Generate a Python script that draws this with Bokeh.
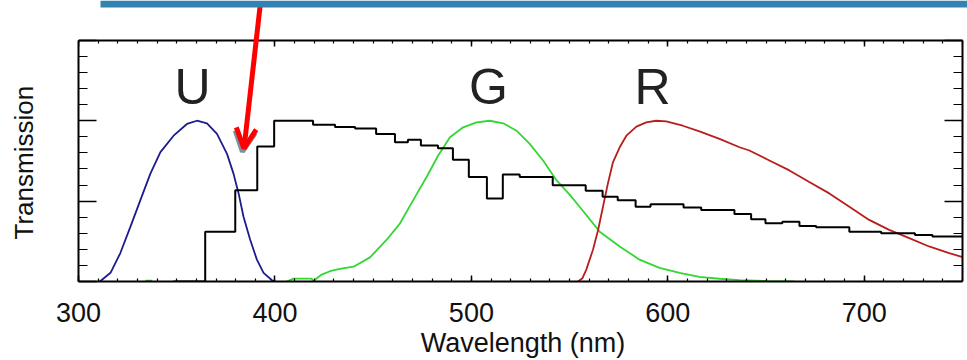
from bokeh.plotting import figure
from bokeh.models import (Range1d, LinearAxis, FixedTicker, Arrow, OpenHead, BoxAnnotation)
from bokeh.core.properties import value
from bokeh.embed import file_html
from bokeh.resources import INLINE
import numpy as np

# ---------------- data ----------------
u_nm = [310.5, 311.2, 316.3, 321.3, 326.4, 331.5, 336.6, 341.7, 348.4, 355.2, 360.3,
        365.4, 370.5, 375.6, 378.9, 381.5, 384.0, 387.4, 390.8, 394.2, 398.5, 400.1]
u_t = [0.0, 0.003, 0.054, 0.177, 0.34, 0.506, 0.671, 0.805, 0.907, 0.98, 1.0,
       0.984, 0.918, 0.794, 0.671, 0.548, 0.403, 0.26, 0.136, 0.054, 0.008, 0.0]

g_nm = [334.0, 337.5, np.nan,
        406.0, 409.4, 418.7, 419.4, 423.8, 428.0, 433.0, 440.0, 448.4, 456.9, 463.7,
        470.4, 477.2, 483.1, 489.1, 495.8, 502.6, 509.4, 516.2, 523.0, 529.7, 536.5,
        543.3, 550.0, 555.1, 565.3, 575.5, 585.6, 595.8, 606.0, 616.1, 626.3, 636.5,
        650.0, 664.4]
g_t = [0.005, 0.005, np.nan,
       0.0, 0.018, 0.018, 0.002, 0.043, 0.064, 0.078, 0.092, 0.15, 0.26, 0.362,
       0.506, 0.65, 0.784, 0.897, 0.959, 0.99, 1.0, 0.984, 0.938, 0.856, 0.753,
       0.63, 0.54, 0.465, 0.31, 0.218, 0.136, 0.085, 0.054, 0.029, 0.017, 0.008,
       0.003, 0.0]

r_nm = [554.3, 556.5, 558.5, 561.9, 564.5, 567.0, 569.5, 572.1, 575.5, 578.9, 584.0,
        589.0, 594.1, 599.2, 607.6, 616.1, 626.3, 636.5, 641.5, 651.7, 661.9, 672.0,
        682.2, 692.4, 702.5, 712.7, 722.9, 733.0, 743.2, 750.0]
r_t = [0.0, 0.02, 0.074, 0.198, 0.32, 0.465, 0.61, 0.743, 0.835, 0.907, 0.963,
       0.99, 1.0, 0.996, 0.969, 0.934, 0.887, 0.835, 0.815, 0.753, 0.691, 0.619,
       0.548, 0.465, 0.383, 0.321, 0.27, 0.218, 0.177, 0.152]

step_edges_nm = [348.3, 364.5, 379.8, 391.0, 399.6, 419.4, 430.6, 440.8, 451.5, 461.1,
                 467.7, 474.3, 483.0, 490.6, 498.7, 507.9, 516.0, 524.6, 541.4, 558.2,
                 566.8, 574.5, 583.6, 591.2, 608.0, 617.0, 633.9, 642.4, 649.7, 658.3,
                 667.0, 675.5, 692.4, 708.6, 725.8, 734.7, 750.0]
step_vals = [0.0, 0.31, 0.568, 0.84, 1.0, 0.975, 0.961, 0.952, 0.917, 0.866,
             0.881, 0.846, 0.829, 0.757, 0.65, 0.517, 0.665, 0.65, 0.599, 0.564,
             0.527, 0.506, 0.465, 0.48, 0.461, 0.444, 0.42, 0.387, 0.362, 0.372,
             0.346, 0.338, 0.31, 0.30, 0.29, 0.28]

filter_names = ["U", "G", "R"]
filter_label_nm = [358.0, 508.7, 592.2]
filter_label_t = [1.212, 1.212, 1.212]

x_major_ticks = [300, 400, 500, 600, 700]
x_minor_ticks = list(range(300, 751, 10))
y_major_ticks = [0.0, 0.5, 1.0, 1.5]
y_minor_ticks = [0.1, 0.2, 0.3, 0.4, 0.6, 0.7, 0.8, 0.9, 1.1, 1.2, 1.3, 1.4]

X_MIN, X_MAX = 300, 750
Y_MIN, Y_MAX = 0.0, 1.5

x_title = "Wavelength (nm)"
y_title = "Transmission"

# arrow annotation (data coords): start and tip
arrow_start = (392.65, 1.736)
arrow_tip = (384.25, 0.8275)

# ---------------- figure ----------------
# the frame reaches the top of the page so the banner and the arrow can be drawn
p = figure(width=967, height=360, x_range=Range1d(300, 752.55), y_range=Range1d(0, 1.748),
           output_backend="svg", toolbar_location=None,
           min_border_left=78, min_border_right=0, min_border_top=0, min_border_bottom=78,
           background_fill_color="white", border_fill_color="white")
p.xgrid.visible = False
p.ygrid.visible = False
p.outline_line_color = None

FONT = "Liberation Sans"
xt = FixedTicker(ticks=x_major_ticks, minor_ticks=x_minor_ticks)
yt = FixedTicker(ticks=y_major_ticks, minor_ticks=y_minor_ticks)

def style_common(ax):
    ax.major_tick_out = 0
    ax.minor_tick_out = 0
    ax.major_tick_line_width = 1.5
    ax.minor_tick_line_width = 1.2
    ax.major_tick_line_color = "black"
    ax.minor_tick_line_color = "black"
    ax.axis_line_color = "black"
    ax.axis_line_width = 2

def no_labels(ax):
    ax.major_label_text_font_size = "0px"
    ax.major_label_text_color = None
    ax.major_label_standoff = 0

def style_x(ax):
    style_common(ax)
    ax.ticker = xt
    ax.bounds = (X_MIN, X_MAX)
    ax.major_tick_in = 6
    ax.minor_tick_in = 3

def style_y(ax):
    style_common(ax)
    ax.ticker = yt
    ax.bounds = (Y_MIN, Y_MAX)
    ax.major_tick_in = 18
    ax.minor_tick_in = 9

xa = p.xaxis[0]
style_x(xa)
xa.major_label_text_font = FONT
xa.major_label_text_font_size = "27px"
xa.major_label_text_color = "#111111"
xa.major_label_standoff = 21
xa.axis_label = x_title
xa.axis_label_text_font = FONT
xa.axis_label_text_font_style = "normal"
xa.axis_label_text_font_size = "27px"
xa.axis_label_text_color = "#111111"
xa.axis_label_standoff = 3

ya = p.yaxis[0]
style_y(ya)
no_labels(ya)
# trailing no-break spaces move the label down so it is centred on the box (0..1.5)
ya.axis_label = y_title + "\u00a0" * 6
ya.axis_label_text_font = FONT
ya.axis_label_text_font_style = "normal"
ya.axis_label_text_font_size = "26px"
ya.axis_label_text_color = "#111111"
ya.axis_label_standoff = 40

top = LinearAxis(fixed_location=Y_MAX)
style_x(top)
no_labels(top)
p.add_layout(top, "above")
right = LinearAxis(fixed_location=X_MAX)
style_y(right)
no_labels(right)
p.add_layout(right, "right")

# curves
p.line(u_nm, u_t, line_color="#1c1c8e", line_width=1.8)
p.line(g_nm, g_t, line_color="#33d633", line_width=1.8)
p.line(r_nm, r_t, line_color="#b81e1e", line_width=1.8)
p.step(step_edges_nm, step_vals + [step_vals[-1]], mode="after",
       line_color="black", line_width=2)

p.text(x=filter_label_nm, y=filter_label_t, text=filter_names,
       text_font=value(FONT), text_font_size="50px", text_color="#222222",
       text_align="center", text_baseline="middle")

# arrow with grey shadow
dx, dy = -0.8, -0.02
p.add_layout(Arrow(x_start=arrow_tip[0] + 0.9 + dx, y_start=arrow_tip[1] + 0.08 + dy,
                   x_end=arrow_tip[0] + dx, y_end=arrow_tip[1] + dy,
                   line_color="#7f8fa0", line_width=5,
                   end=OpenHead(size=20, line_color="#7f8fa0", line_width=5)))
p.add_layout(Arrow(x_start=arrow_start[0], y_start=arrow_start[1],
                   x_end=arrow_tip[0], y_end=arrow_tip[1],
                   line_color="#ff0000", line_width=5,
                   end=OpenHead(size=20, line_color="#ff0000", line_width=5)))

# blue banner at the top of the slide
p.add_layout(BoxAnnotation(left=311.2, right=752.55, top=1.748, bottom=1.7045,
                           fill_color="#3482b3", fill_alpha=1.0, line_color=None))

open("out.html", "w").write(file_html(p, INLINE))
